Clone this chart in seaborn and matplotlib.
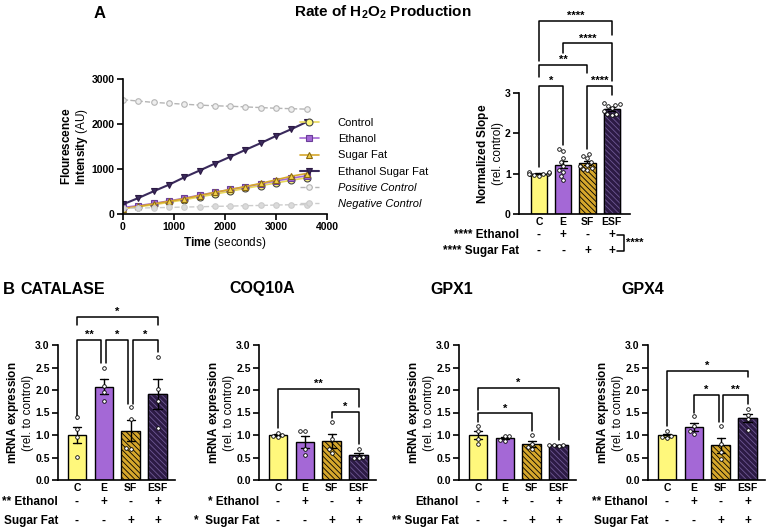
import numpy as np
import pandas as pd
import seaborn as sns
import matplotlib.pyplot as plt
from matplotlib import transforms
from matplotlib.patches import Rectangle

sns.set_theme(style="ticks")
plt.rcParams['font.family'] = ['Liberation Sans', 'DejaVu Sans']
plt.rcParams['mathtext.fontset'] = 'custom'
plt.rcParams['mathtext.rm'] = 'Liberation Sans'
plt.rcParams['mathtext.bf'] = 'Liberation Sans:bold'
plt.rcParams['mathtext.it'] = 'Liberation Sans:italic'
plt.rcParams['hatch.linewidth'] = 0.6
for k in ['text.color', 'axes.labelcolor', 'xtick.color', 'ytick.color', 'axes.edgecolor']:
    plt.rcParams[k] = 'black'

# ---- data: H2O2 production time course ----
times = [0, 300, 600, 900, 1200, 1500, 1800, 2100, 2400, 2700, 3000, 3300, 3600]
control_line = [130, 160, 205, 260, 315, 380, 440, 505, 570, 630, 690, 750, 805]
ethanol_line = [145, 185, 235, 290, 350, 420, 480, 545, 605, 670, 735, 795, 850]
sugarfat_line = [120, 170, 225, 280, 340, 410, 480, 545, 610, 680, 760, 840, 900]
esf_line = [215, 355, 505, 650, 815, 965, 1120, 1270, 1425, 1575, 1735, 1885, 2045]
pos_line = [2540, 2510, 2480, 2460, 2440, 2420, 2405, 2395, 2380, 2365, 2350, 2340, 2330]
neg_line = [125, 130, 140, 145, 155, 160, 170, 175, 185, 190, 200, 205, 210]

groups = ['C', 'E', 'SF', 'ESF']
ethanol_signs = ['-', '+', '-', '+']
sugarfat_signs = ['-', '-', '+', '+']

# normalized slope, individual replicates
slope_C = [0.95, 0.97, 0.98, 1.0, 1.0, 1.02, 1.03, 1.0, 1.05]
slope_E = [0.85, 0.95, 1.05, 1.1, 1.2, 1.3, 1.4, 1.55, 1.6]
slope_SF = [1.1, 1.12, 1.15, 1.2, 1.22, 1.3, 1.45, 1.5, 1.4]
slope_ESF = [2.45, 2.47, 2.48, 2.55, 2.62, 2.7, 2.72, 2.75, 2.68]

# mRNA expression (rel. to control)
catalase = {'C': [0.52, 0.95, 1.13, 1.4], 'E': [2.5, 2.1, 1.95, 1.75],
            'SF': [1.62, 1.36, 0.7, 0.72], 'ESF': [2.73, 2.02, 1.75, 1.15]}
coq10a = {'C': [0.95, 0.98, 1.0, 1.05], 'E': [1.08, 1.08, 0.7, 0.55],
          'SF': [1.3, 0.92, 0.68, 0.6], 'ESF': [0.7, 0.52, 0.5, 0.48]}
gpx1 = {'C': [1.2, 1.08, 0.92, 0.8], 'E': [0.98, 0.97, 0.9, 0.87],
        'SF': [1.0, 0.8, 0.73, 0.68], 'ESF': [0.78, 0.77, 0.77, 0.76]}
gpx4 = {'C': [1.1, 0.98, 0.95, 0.93], 'E': [1.42, 1.2, 1.08, 1.02],
        'SF': [1.2, 0.8, 0.62, 0.46], 'ESF': [1.58, 1.45, 1.35, 1.12]}

bar_colors = {'C': '#FFF87C', 'E': '#A468D6', 'SF': '#D6A72C', 'ESF': '#2C1A44'}
esf_hatch = '#6E5894'

W, H = 767, 529
fig = plt.figure(figsize=(W / 100, H / 100), dpi=100)


def px_axes(l, t, r, b):
    return fig.add_axes([l / W, 1 - b / H, (r - l) / W, (b - t) / H])


def style_axes(ax):
    sns.despine(ax=ax)
    for s in ['left', 'bottom']:
        ax.spines[s].set_linewidth(1.2)
        ax.spines[s].set_color('black')
    ax.tick_params(axis='both', direction='out', length=4, width=1.2, color='black',
                   labelsize=7.5, pad=2, labelcolor='black')
    for lab in ax.get_xticklabels() + ax.get_yticklabels():
        lab.set_fontweight('bold')


def bracket(ax, x1, x2, y, y1, y2, label):
    ax.plot([x1, x1, x2, x2], [y1, y, y, y2], color='black', lw=1.1, clip_on=False)
    ax.text((x1 + x2) / 2, y, label, ha='center', va='bottom', fontsize=8,
            fontweight='bold')


def bar_panel(ax, data, ylabel):
    df = pd.DataFrame([(g, v) for g in groups for v in data[g]], columns=['group', 'value'])
    sns.barplot(data=df, x='group', y='value', hue='group', order=groups, hue_order=groups,
                palette=bar_colors, saturation=1, legend=False, errorbar='se', capsize=0.3,
                width=0.68, err_kws={'color': 'black', 'linewidth': 1}, edgecolor='black',
                linewidth=1, ax=ax)
    patches = sorted([p for p in ax.patches], key=lambda p: p.get_x())
    patches[2].set_hatch('\\\\\\\\\\\\')
    patches[3].set_hatch('\\\\\\\\\\\\')
    patches[3].set_edgecolor(esf_hatch)
    ax.add_patch(Rectangle(patches[3].get_xy(), patches[3].get_width(),
                           patches[3].get_height(), fill=False, ec='black', lw=1, zorder=3))
    sns.swarmplot(data=df, x='group', y='value', order=groups, color='white',
                  edgecolor='black', linewidth=0.6, size=2.6, ax=ax, zorder=4)
    ax.set_xlabel('')
    ax.set_ylabel(ylabel, fontsize=8.5, labelpad=1, linespacing=1.1)
    ax.tick_params(axis='x', length=0)


def treatment_rows(ax, y1, y2, lab1, lab2):
    tr = transforms.blended_transform_factory(ax.transData, fig.transFigure)
    tl = transforms.blended_transform_factory(ax.transAxes, fig.transFigure)
    for i in range(len(groups)):
        ax.text(i, 1 - y1 / H, ethanol_signs[i], transform=tr, ha='center', va='center',
                fontsize=8.5, fontweight='bold')
        ax.text(i, 1 - y2 / H, sugarfat_signs[i], transform=tr, ha='center', va='center',
                fontsize=8.5, fontweight='bold')
    ax.text(0.0, 1 - y1 / H, lab1, transform=tl, ha='right', va='center', fontsize=8.5,
            fontweight='bold')
    ax.text(0.0, 1 - y2 / H, lab2, transform=tl, ha='right', va='center', fontsize=8.5,
            fontweight='bold')


# ---- Panel A: time course ----
ax = px_axes(123, 79, 327, 214)
series = [
    ('Control', control_line, 'o', '#FFF87C', '#444444', '#E8D85A', '-', 1.2, 5),
    ('Ethanol', ethanol_line, 's', '#A468D6', '#6B3F99', '#A468D6', '-', 1.2, 4.5),
    ('Sugar Fat', sugarfat_line, '^', '#F2D04A', '#8A6A10', '#D6A72C', '-', 1.2, 5),
    ('Ethanol Sugar Fat', esf_line, 'v', '#3A2A5C', '#2C1A44', '#3A2A5C', '-', 1.5, 5),
    ('Positive Control', pos_line, 'o', '#EEEEEE', '#B5B5B5', '#B5B5B5', '--', 1.0, 4),
    ('Negative Control', neg_line, 'o', '#DADADA', '#CCCCCC', '#CCCCCC', '--', 1.0, 4),
]
for name, vals, mk, fc, ec, lc, ls, lw, ms in series:
    sns.lineplot(x=times, y=vals, ax=ax, label=name, color=lc, linestyle=ls, linewidth=lw,
                 marker=mk, markersize=ms, markerfacecolor=fc, markeredgecolor=ec,
                 markeredgewidth=0.8)
ax.set_xlim(0, 4000)
ax.set_ylim(0, 3000)
ax.set_xticks([0, 1000, 2000, 3000, 4000])
ax.set_yticks([0, 1000, 2000, 3000])
ax.set_xlabel(r'$\bf{Time}$ (seconds)', fontsize=8.5, labelpad=2)
ax.set_ylabel(r'$\bf{Flourescence}$' + '\n' + r'$\bf{Intensity}$ (AU)', fontsize=8.5,
              labelpad=1, linespacing=1.1)
style_axes(ax)
leg = ax.legend(loc='upper left', bbox_to_anchor=(300 / W, 1 - 118 / H),
                bbox_transform=fig.transFigure, frameon=False, fontsize=8,
                handlelength=1.7, handletextpad=1.7, labelspacing=0.56,
                borderaxespad=0, borderpad=0)
for t in leg.get_texts()[4:]:
    t.set_fontstyle('italic')

# ---- Panel A: normalized slope ----
ax = px_axes(519, 93, 630, 214)
slope = {'C': slope_C, 'E': slope_E, 'SF': slope_SF, 'ESF': slope_ESF}
bar_panel(ax, slope, r'$\bf{Normalized\ Slope}$' + '\n(rel. control)')
ax.set_ylim(0, 3)
ax.set_yticks([0, 1, 2, 3])
ax.set_xlim(-0.82, 3.75)
style_axes(ax)
ax.tick_params(axis='x', length=0)
bracket(ax, 0, 1, 3.17, 1.16, 1.7, '*')
bracket(ax, 2, 3, 3.17, 1.6, 2.95, '****')
bracket(ax, 0, 2, 3.69, 3.39, 3.5, '**')
bracket(ax, 1, 3, 4.23, 3.98, 3.3, '****')
bracket(ax, 0, 3, 4.78, 3.8, 4.43, '****')
treatment_rows(ax, 235, 251, '**** Ethanol', '**** Sugar Fat')
tr = transforms.blended_transform_factory(ax.transData, fig.transFigure)
ax.plot([3.2, 3.5, 3.5, 3.2], [1 - 235 / H, 1 - 235 / H, 1 - 251 / H, 1 - 251 / H],
        transform=tr, color='black', lw=1.1, clip_on=False)
ax.text(3.6, 1 - 243 / H, '****', transform=tr, ha='left', va='center', fontsize=8,
        fontweight='bold')

# ---- Panel B: mRNA expression ----
mrna_label = r'$\bf{mRNA\ expression}$' + '\n(rel. to control)'
panels = [
    ('CATALASE', catalase, 58, 63, '** Ethanol', 'Sugar Fat'),
    ('COQ10A', coq10a, 259, 262, '* Ethanol', '*  Sugar Fat'),
    ('GPX1', gpx1, 459, 452, 'Ethanol', '** Sugar Fat'),
    ('GPX4', gpx4, 648, 643, '** Ethanol', 'Sugar Fat'),
]
bax = {}
for title, data, left, tx, lab1, lab2 in panels:
    ax = px_axes(left, 345, left + 117, 480)
    bar_panel(ax, data, mrna_label)
    ax.set_ylim(0, 3)
    ax.set_yticks(np.arange(0, 3.01, 0.5))
    ax.set_yticklabels([f'{v:.1f}' for v in np.arange(0, 3.01, 0.5)])
    ax.set_xlim(-0.7, 3.65)
    style_axes(ax)
    ax.tick_params(axis='x', length=0)
    treatment_rows(ax, 502, 521, lab1, lab2)
    fig.text(tx / W, 1 - 289 / H, title, ha='center', va='center', fontsize=11.5,
             fontweight='bold')
    bax[title] = ax

ax = bax['CATALASE']
bracket(ax, 0, 3, 3.62, 3.45, 3.45, '*')
bracket(ax, 0, 0.9, 3.11, 1.35, 2.6, '**')
bracket(ax, 1.07, 1.9, 3.11, 2.6, 1.7, '*')
bracket(ax, 2.07, 3, 3.11, 1.7, 2.85, '*')

ax = bax['COQ10A']
bracket(ax, 0, 3, 2.02, 1.15, 1.62, '**')
bracket(ax, 2, 3, 1.51, 1.38, 0.8, '*')

ax = bax['GPX1']
bracket(ax, 0, 3, 2.05, 1.55, 0.9, '*')
bracket(ax, 0, 2, 1.48, 1.3, 1.1, '*')

ax = bax['GPX4']
bracket(ax, 0, 3, 2.42, 1.2, 2.28, '*')
bracket(ax, 1, 1.93, 1.89, 1.5, 1.3, '*')
bracket(ax, 2.07, 3, 1.89, 1.3, 1.7, '**')

# ---- titles / panel letters ----
fig.text(383 / W, 1 - 12 / H, r'Rate of $\mathbf{H_2O_2}$ Production', ha='center',
         va='center', fontsize=11, fontweight='bold')
fig.text(100 / W, 1 - 14 / H, 'A', ha='center', va='center', fontsize=12,
         fontweight='bold')
fig.text(9 / W, 1 - 289 / H, 'B', ha='center', va='center', fontsize=12,
         fontweight='bold')

fig.savefig('out.png', dpi=100)
